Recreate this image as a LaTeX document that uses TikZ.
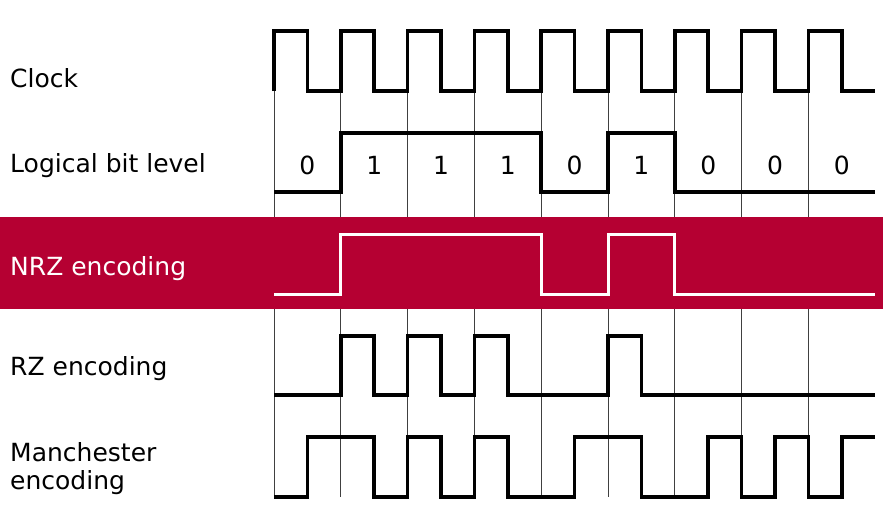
\documentclass[tikz,border=0pt]{standalone}
\usepackage{fontspec}
\setmainfont{DejaVu Sans}
\definecolor{nrzred}{RGB}{181,0,50}
\tikzset{
  sig/.style={line width=3.5pt},
  gridline/.style={line width=0.7pt, black!75},
  lbl/.style={font=\fontsize{25}{28}\selectfont, anchor=base west, inner sep=0pt, align=left},
  bit/.style={font=\fontsize{25}{28}\selectfont, anchor=base, inner sep=0pt}
}

\begin{document}
\begin{tikzpicture}[x=1pt, y=-1pt]
  \useasboundingbox (0,0) rectangle (894,519);
  \def\p{66.8} \def\h{33.4} \def\xo{274}
  \def\bits{0,1,1,1,0,1,0,0,0}
  \foreach \k in {0,...,8}
    \draw[gridline] ({\xo+\k*\p},91) -- ({\xo+\k*\p},497);
  \fill[nrzred] (0,217) rectangle (883,309);

  % clock
  \draw[sig] (\xo,91) \foreach \k in {0,...,8} { -- ++(0,-60) -- ++(\h,0) -- ++(0,60) -- ++(\h,0) };
  % logical level
  \draw[sig] (\xo,192) \foreach \b [count=\i from 0] in \bits
    { -- ({\xo+\i*\p},{192-59*\b}) -- ({\xo+(\i+1)*\p},{192-59*\b}) };
  \foreach \b [count=\i from 0] in \bits
    \node[bit] (bit\i) at ({\xo+\i*\p+\h},174) {\b};
  % NRZ
  \draw[sig, line width=3pt, white] (\xo,294) \foreach \b [count=\i from 0] in \bits
    { -- ({\xo+\i*\p},{294-60*\b}) -- ({\xo+(\i+1)*\p},{294-60*\b}) };
  % RZ
  \draw[sig] (\xo,395) \foreach \b [count=\i from 0] in \bits
    { -- ({\xo+\i*\p},{395-59*\b}) -- ({\xo+\i*\p+\h},{395-59*\b})
      -- ({\xo+\i*\p+\h},395) -- ({\xo+(\i+1)*\p},395) };
  % Manchester
  \draw[sig] (\xo,497) \foreach \b [count=\i from 0] in \bits
    { -- ({\xo+\i*\p},{497-60*\b}) -- ({\xo+\i*\p+\h},{497-60*\b})
      -- ({\xo+\i*\p+\h},{437+60*\b}) -- ({\xo+(\i+1)*\p},{437+60*\b}) };

  \node[lbl] (clk) at (10,88) {Clock};
  \node[lbl] (lvl) at (10,172) {Logical bit level};
  \node[lbl, white] (nrz) at (10,275) {NRZ encoding};
  \node[lbl] (rz) at (10,375) {RZ encoding};
  \node[lbl] (man) at (10,489) {Manchester\\encoding};
\end{tikzpicture}
\end{document}
